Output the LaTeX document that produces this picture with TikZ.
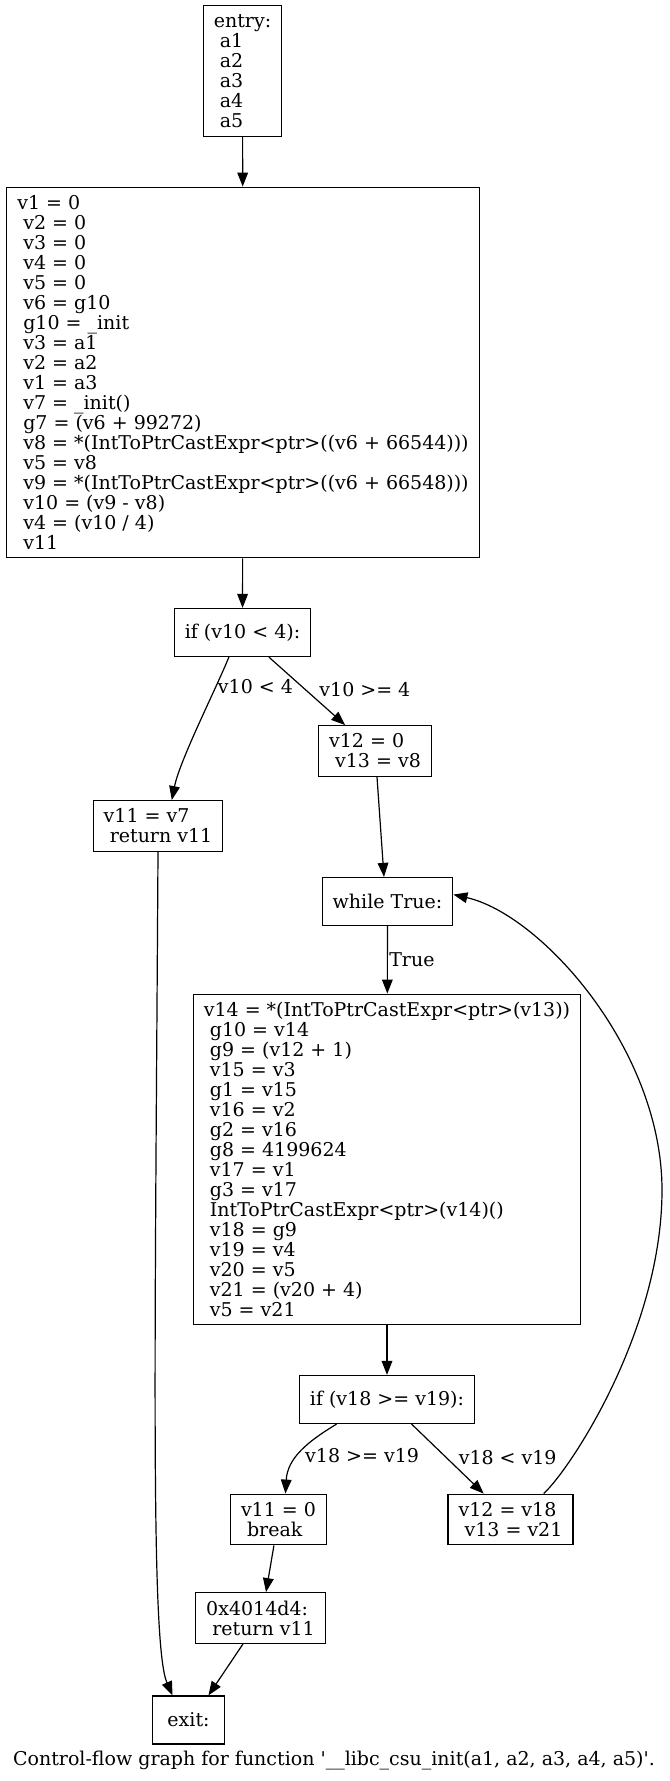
\documentclass[tikz,border=0pt]{standalone}
\usepackage{fontspec}
\setmainfont{DejaVu Serif}
\usetikzlibrary{arrows.meta,positioning,calc}

\begin{document}
\begin{tikzpicture}[
    x=0.75pt, y=-0.75pt,
    blk/.style={rectangle, draw, line width=0.9pt, align=left, inner xsep=7.9pt, inner ysep=4pt, minimum width=54pt, minimum height=36pt, font=\fontsize{14.25}{15}\selectfont},
    lbl/.style={inner sep=1pt, font=\fontsize{14.25}{15}\selectfont},
    arrow/.style={-{Triangle[length=10.5pt,width=8pt]}, line width=0.9pt}
]
    \useasboundingbox (0,0) rectangle (669,1781);

    \node[blk, minimum height=98pt] (entry) at (242.5,71) {entry:\\~a1\\~a2\\~a3\\~a4\\~a5};
    \node[blk, minimum height=278pt] (init) at (243,372.5) {v1 = 0\\~v2 = 0\\~v3 = 0\\~v4 = 0\\~v5 = 0\\~v6 = g10\\~g10 = \_init\\~v3 = a1\\~v2 = a2\\~v1 = a3\\~v7 = \_init()\\~g7 = (v6 + 99272)\\~v8 = *(IntToPtrCastExpr<ptr>((v6 + 66544)))\\~v5 = v8\\~v9 = *(IntToPtrCastExpr<ptr>((v6 + 66548)))\\~v10 = (v9 - v8)\\~v4 = (v10 / 4)\\~v11};
    \node[blk] (cond1) at (242.5,632.5) {if (v10 < 4):};
    \node[blk, minimum height=38pt] (loopinit) at (375,751) {v12 = 0\\~v13 = v8};
    \node[blk, minimum height=38pt] (ret1) at (158,826) {v11 = v7\\~return v11};
    \node[blk] (while) at (387.5,901.5) {while True:};
    \node[blk, minimum height=248pt] (body) at (387,1159.5) {v14 = *(IntToPtrCastExpr<ptr>(v13))\\~g10 = v14\\~g9 = (v12 + 1)\\~v15 = v3\\~g1 = v15\\~v16 = v2\\~g2 = v16\\~g8 = 4199624\\~v17 = v1\\~g3 = v17\\~IntToPtrCastExpr<ptr>(v14)()\\~v18 = g9\\~v19 = v4\\~v20 = v5\\~v21 = (v20 + 4)\\~v5 = v21};
    \node[blk] (cond2) at (387,1399.5) {if (v18 >= v19):};
    \node[blk, minimum height=38pt] (brk) at (278.5,1519.5) {v11 = 0\\~break};
    \node[blk, minimum height=38pt] (upd) at (510.5,1519.5) {v12 = v18\\~v13 = v21};
    \node[blk, minimum height=38pt] (ret2) at (260.5,1618) {0x4014d4:\\~return v11};
    \node[blk] (exit) at (188.5,1720) {exit:};
    \node[lbl] (caption) at (334,1761) {Control-flow graph for function \textquotesingle\_\_libc\_csu\_init(a1, a2, a3, a4, a5)\textquotesingle.};

    \coordinate (bend) at (662,1190);

    \draw[arrow] (entry) -- (init);
    \draw[arrow] (init) -- (cond1);
    \draw[arrow] (cond1.241) .. controls +(-12,30) and +(8,-40) .. (ret1.62) node[lbl, pos=0.25, anchor=west] {v10 < 4};
    \draw[arrow] (cond1.317) -- (loopinit.139) node[lbl, pos=0.48, anchor=west, xshift=9pt] {v10 >= 4};
    \draw[arrow] ($(loopinit.south)+(2,0)$) -- ($(while.north)+(-3.5,0)$);
    \draw[arrow] (ret1.south) .. controls +(-3,500) and +(-22,-50) .. (exit.123);
    \draw[arrow] (while) -- (body) node[lbl, midway, anchor=west] {True};
    \draw[arrow] (body) -- (cond2);
    \draw[arrow] (cond2.206.6) .. controls +(-30,18) and +(2,-35) .. (brk.75) node[lbl, pos=0.55, anchor=west, xshift=4pt] {v18 >= v19};
    \draw[arrow] (cond2.315.6) -- (upd.136) node[lbl, pos=0.48, anchor=west, xshift=8pt] {v18 < v19};
    \draw[arrow] (upd.38) .. controls +(27,-25) and +(0,140) .. (bend) .. controls +(0,-140) and +(88,20) .. (while.6);
    \draw[arrow] (brk.260) -- (ret2.78);
    \draw[arrow] (ret2.236) -- (exit.51);
\end{tikzpicture}
\end{document}
